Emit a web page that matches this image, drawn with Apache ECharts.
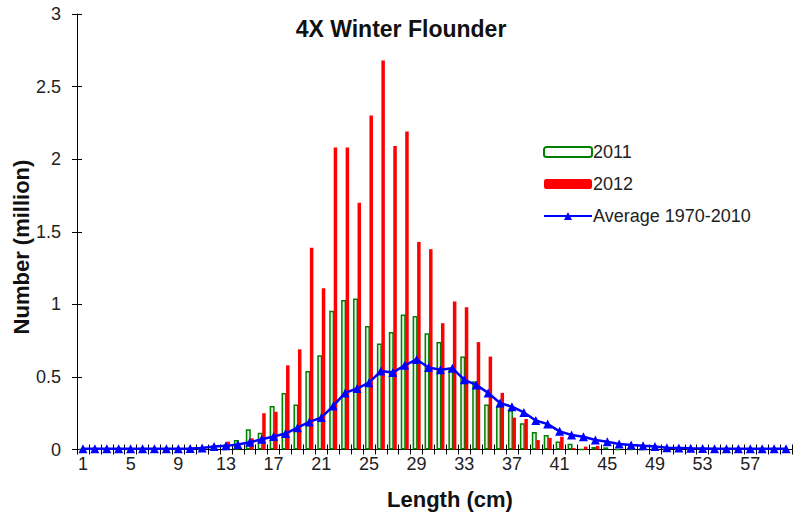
<!DOCTYPE html>
<html><head><meta charset="utf-8">
<script src="https://cdn.jsdelivr.net/npm/echarts@6/dist/echarts.min.js"></script>
<style>html,body{margin:0;padding:0;background:#fff}#c{width:794px;height:514px}</style>
</head><body><div id="c"></div>
<script>
var lengths = [];
for (var i = 1; i <= 60; i++) lengths.push(String(i));
var y2011 = [0,0,0,0,0,0,0,0,0,0,0,0,0,0.065,0.14,0.115,0.30,0.39,0.31,0.54,0.65,0.955,1.03,1.04,0.85,0.73,0.81,0.93,0.92,0.80,0.74,0.55,0.64,0.47,0.31,0.30,0.27,0.18,0.12,0.10,0.055,0.04,0,0.017,0.015,0,0,0,0,0,0,0,0,0,0,0,0,0,0,0];
var y2012 = [0,0,0,0,0,0,0,0,0,0,0,0,0.054,0,0.077,0.25,0.26,0.58,0.69,1.39,1.11,2.08,2.08,1.70,2.30,2.68,2.09,2.19,1.43,1.38,0.87,1.02,0.98,0.74,0.64,0.39,0.22,0.21,0.065,0.08,0.088,0.01,0.02,0.025,0,0,0,0,0,0,0,0,0,0,0,0,0,0,0,0];
var yAvg = [0.005,0.005,0.005,0.005,0.005,0.005,0.005,0.005,0.006,0.007,0.01,0.02,0.025,0.035,0.05,0.07,0.09,0.11,0.15,0.19,0.22,0.30,0.39,0.42,0.46,0.54,0.53,0.58,0.62,0.565,0.55,0.56,0.48,0.445,0.39,0.32,0.295,0.255,0.20,0.175,0.125,0.10,0.088,0.066,0.054,0.038,0.031,0.025,0.02,0.012,0.01,0.008,0.007,0.006,0.006,0.005,0.005,0.005,0.005,0.005];
var seriesNames = ['2011','2012','Average 1970-2010'];
var titleText = '4X Winter Flounder';
var xTitle = 'Length (cm)';
var yTitle = 'Number (million)';

var FONT = '"Liberation Sans", Arial, sans-serif';
var chart = echarts.init(document.getElementById('c'), null, {renderer:'svg'});
chart.setOption({
  animation:false,
  textStyle:{fontFamily:FONT},
  grid:{left:77,right:2,top:14,bottom:64.5,containLabel:false},
  legend:{
    orient:'vertical', left:538, top:138, itemWidth:48, itemHeight:10, itemGap:14,
    textStyle:{fontFamily:FONT,fontSize:18,color:'#222',padding:[0,0,0,-4]},
    data:[{name:seriesNames[0],itemStyle:{color:'#ffffff'}},{name:seriesNames[1]},{name:seriesNames[2]}]
  },
  graphic:[
    {type:'text',x:401,y:29,style:{text:titleText,font:'bold 23px '+FONT,fill:'#111',align:'center',verticalAlign:'middle'}},
    {type:'text',x:450,y:499,style:{text:xTitle,font:'bold 22px '+FONT,fill:'#111',align:'center',verticalAlign:'middle'}},
    {type:'text',x:21,y:247,rotation:Math.PI/2,style:{text:yTitle,font:'bold 22px '+FONT,fill:'#111',align:'center',verticalAlign:'middle'}}
  ],
  xAxis:[{
    type:'category', data:lengths, boundaryGap:true,
    axisLine:{lineStyle:{color:'#000',width:1}},
    axisTick:{show:true,interval:0,length:5,lineStyle:{color:'#000'}},
    axisLabel:{interval:3,fontSize:18,color:'#222',margin:5,fontFamily:FONT},
    splitLine:{show:false}
  },{
    type:'category', data:lengths, position:'bottom', boundaryGap:true,
    axisLine:{show:false},
    axisTick:{show:true,inside:true,interval:0,length:5,lineStyle:{color:'#000'}},
    axisLabel:{show:false}, splitLine:{show:false}
  }],
  yAxis:[{
    type:'value', min:0, max:3, interval:0.5,
    axisLine:{show:true,lineStyle:{color:'#000',width:1}},
    axisTick:{show:true,length:5,lineStyle:{color:'#000'}},
    axisLabel:{fontSize:18,color:'#222',margin:16,fontFamily:FONT},
    splitLine:{show:false}
  },{
    type:'value', min:0, max:3, interval:0.5, position:'left',
    axisLine:{show:false},
    axisTick:{show:true,inside:true,length:5,lineStyle:{color:'#000'}},
    axisLabel:{show:false}, splitLine:{show:false}
  }],
  series:[
    {name:seriesNames[0],type:'bar',data:y2011,barWidth:5,barGap:'-10%',
     itemStyle:{color:'#e2efe2',borderColor:'#008000',borderWidth:1.5}},
    {name:seriesNames[1],type:'bar',data:y2012,barWidth:3.5,
     itemStyle:{color:'#ff0000'}},
    {name:seriesNames[2],type:'line',data:yAvg,symbol:'triangle',symbolSize:9,showAllSymbol:true,
     lineStyle:{color:'#0000ff',width:2.5},itemStyle:{color:'#0000ff'},z:5}
  ]
});
</script></body></html>
